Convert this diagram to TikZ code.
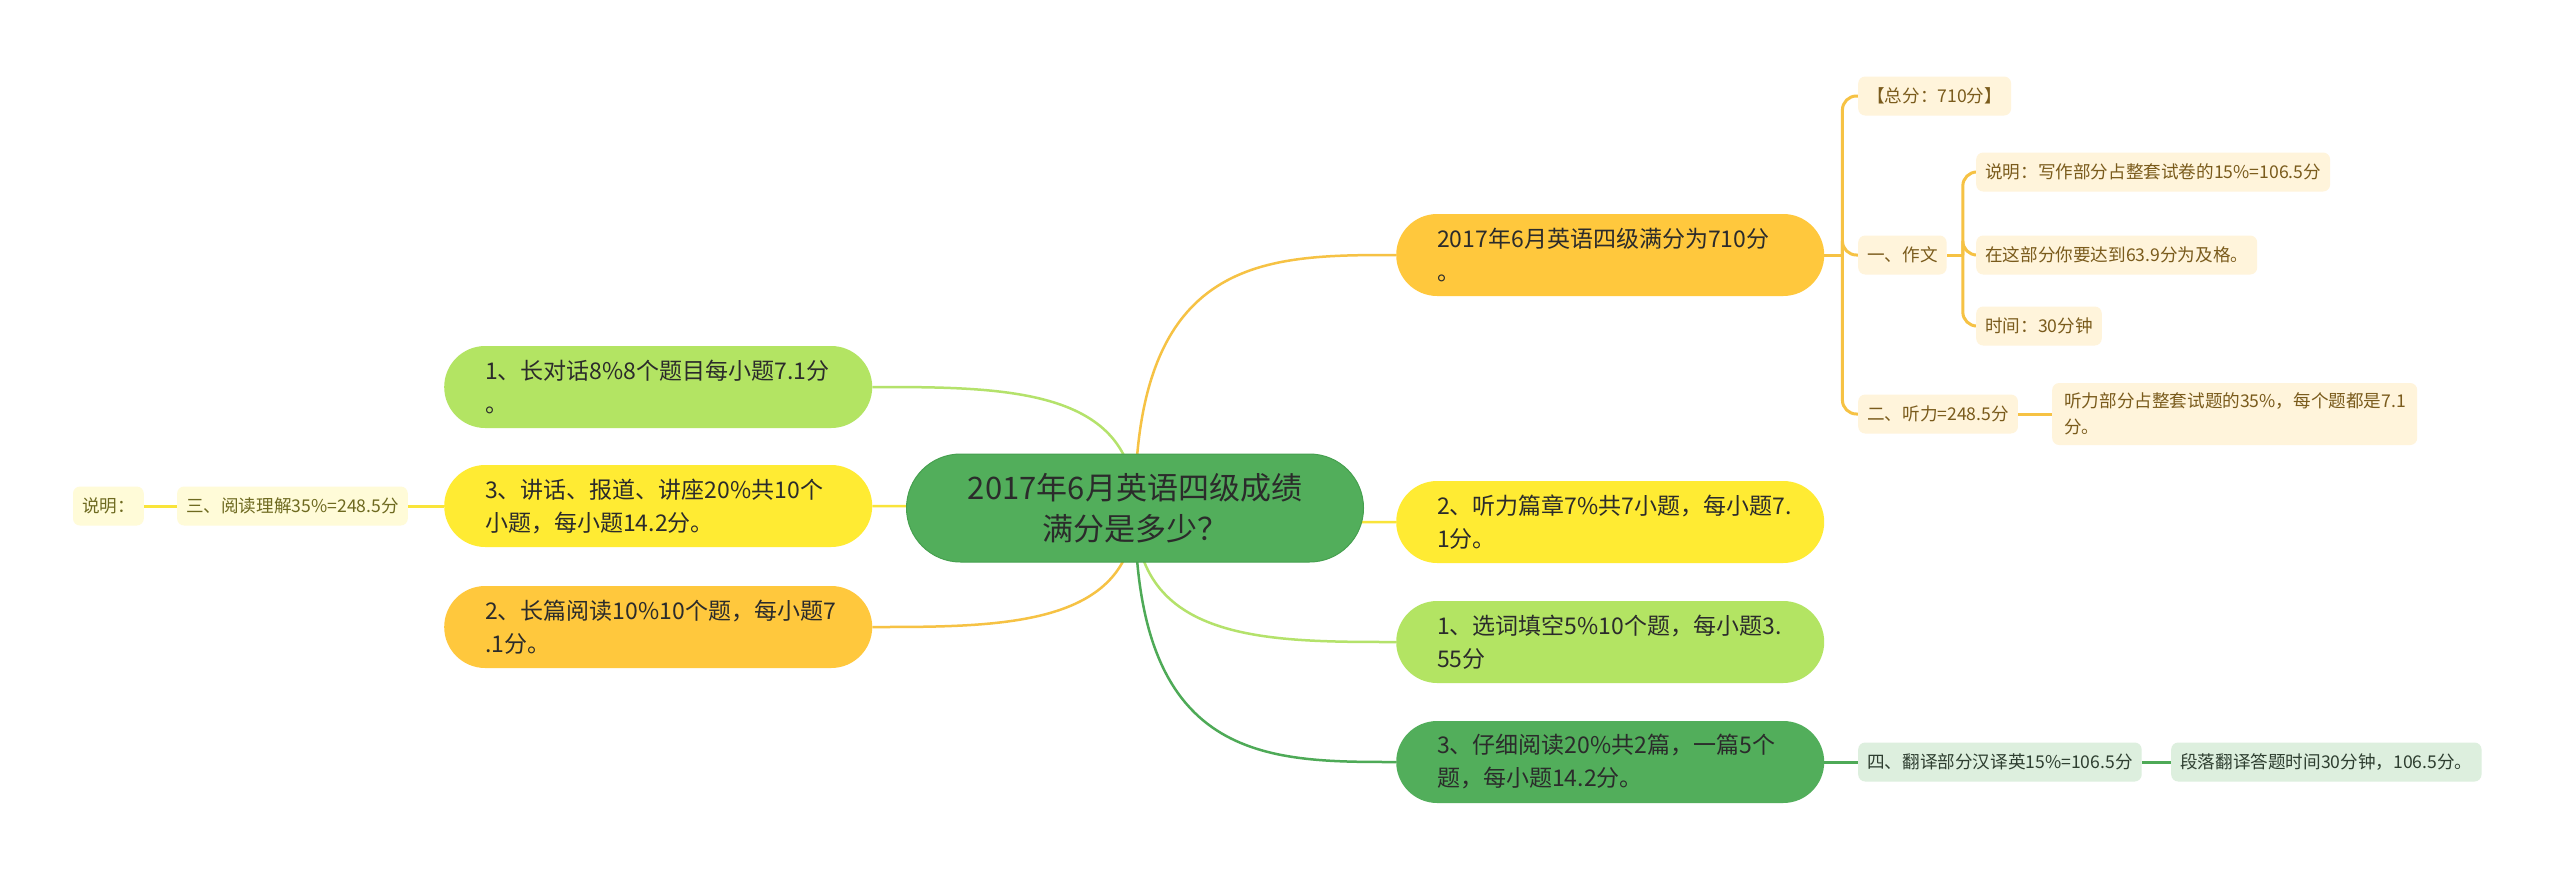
\documentclass[tikz,border=0pt]{standalone}
\usepackage{fontspec}
\setmainfont{Noto Sans CJK SC}
\usetikzlibrary{backgrounds,calc}
\definecolor{cgreen}{HTML}{52AE5B}
\definecolor{cgreenb}{HTML}{46A04F}
\definecolor{corange}{HTML}{FFC83D}
\definecolor{cyellow}{HTML}{FFEB33}
\definecolor{clgreen}{HTML}{B3E463}
\definecolor{lorange}{HTML}{F6C244}
\definecolor{lyellow}{HTML}{F9E43A}
\definecolor{llgreen}{HTML}{B4E26B}
\definecolor{lgreen}{HTML}{4EAA57}
\definecolor{porange}{HTML}{FFF4DB}
\definecolor{pyellow}{HTML}{FFFBD8}
\definecolor{pgreen}{HTML}{DDEFDE}
\definecolor{torange}{HTML}{7A5B1C}
\definecolor{tyellow}{HTML}{6E6A20}
\definecolor{tgreen}{HTML}{2E3E30}
\definecolor{txtdark}{HTML}{2B2B2B}
\begin{document}
\begin{tikzpicture}[x=1pt,y=-1pt,
  rootnode/.style={rectangle, rounded corners=54pt, minimum width=457pt, minimum height=108pt,
    inner sep=0pt, align=center, fill=cgreen, draw=cgreenb, line width=1pt,
    font=\fontsize{31}{41}\selectfont, text=txtdark},
  lvone/.style={rectangle, rounded corners=41pt, minimum height=82pt, text width=346pt,
    inner xsep=41pt, inner ysep=0pt, align=left, anchor=west,
    font=\fontsize{23}{33}\selectfont, text=txtdark},
  lvtwo/.style={rectangle, rounded corners=7pt, minimum height=39pt, inner xsep=9pt,
    inner ysep=0pt, anchor=west, font=\fontsize{17.6}{26}\selectfont, align=left},
  orng/.style={lvtwo, fill=porange, text=torange},
  yelw/.style={lvtwo, fill=pyellow, text=tyellow},
  grn/.style={lvtwo, fill=pgreen, text=tgreen},
  conn/.style={line width=2.5pt},
  conntwo/.style={line width=3pt, rounded corners=14pt}
]
\useasboundingbox (0,0) rectangle (2560,879);

% root
\node[rootnode] (root) at (1135,508) {2017年6月英语四级成绩\\满分是多少？};

% right level one
\node[lvone, fill=corange] (R1) at (1396,255) {2017年6月英语四级满分为710分\\。};
\node[lvone, fill=cyellow] (R2) at (1396,522) {2、听力篇章7\%共7小题，每小题7.\\1分。};
\node[lvone, fill=clgreen] (R3) at (1396,642) {1、选词填空5\%10个题，每小题3.\\55分};
\node[lvone, fill=cgreen] (R4) at (1396,762) {3、仔细阅读20\%共2篇，一篇5个\\题，每小题14.2分。};

% left level one
\node[lvone, fill=clgreen] (L1) at (444,387) {1、长对话8\%8个题目每小题7.1分\\。};
\node[lvone, fill=cyellow] (L2) at (444,506) {3、讲话、报道、讲座20\%共10个\\小题，每小题14.2分。};
\node[lvone, fill=corange] (L3) at (444,627) {2、长篇阅读10\%10个题，每小题7\\.1分。};

% R1 children
\node[orng] (a1) at (1858,96) {【总分：710分】};
\node[orng] (a2) at (1858,255) {一、作文};
\node[orng] (a3) at (1858,414) {二、听力=248.5分};
\node[orng] (b1) at (1976,172) {说明：写作部分占整套试卷的15\%=106.5分};
\node[orng] (b2) at (1976,255) {在这部分你要达到63.9分为及格。};
\node[orng] (b3) at (1976,326) {时间：30分钟};
\node[orng, text width=341pt, minimum height=62pt, inner xsep=12pt] (b4) at (2052,414) {听力部分占整套试题的35\%，每个题都是7.1\\分。};

% R4 children
\node[grn] (c1) at (1858,762) {四、翻译部分汉译英15\%=106.5分};
\node[grn] (c2) at (2171,762) {段落翻译答题时间30分钟，106.5分。};

% L2 children
\node[yelw, anchor=east] (d1) at (408,506) {三、阅读理解35\%=248.5分};
\node[yelw, anchor=east] (d2) at (144,506) {说明：};

\begin{pgfonlayer}{background}
\fill[white] (0,0) rectangle (2560,879);
% root to level one
\draw[conn, draw=lorange] (root.center) .. controls (root.center |- R1.west) and ($(root.center |- R1.west)!0.5!(R1.west)$) .. (R1.west);
\draw[conn, draw=lyellow] (root.center) .. controls (root.center |- R2.west) and ($(root.center |- R2.west)!0.5!(R2.west)$) .. (R2.west);
\draw[conn, draw=llgreen] (root.center) .. controls (root.center |- R3.west) and ($(root.center |- R3.west)!0.5!(R3.west)$) .. (R3.west);
\draw[conn, draw=lgreen] (root.center) .. controls (root.center |- R4.west) and ($(root.center |- R4.west)!0.5!(R4.west)$) .. (R4.west);
\draw[conn, draw=llgreen] (root.center) .. controls (root.center |- L1.east) and ($(root.center |- L1.east)!0.5!(L1.east)$) .. (L1.east);
\draw[conn, draw=lyellow] (root.center) .. controls (root.center |- L2.east) and ($(root.center |- L2.east)!0.5!(L2.east)$) .. (L2.east);
\draw[conn, draw=lorange] (root.center) .. controls (root.center |- L3.east) and ($(root.center |- L3.east)!0.5!(L3.east)$) .. (L3.east);
% R1 branch
\draw[conntwo, draw=lorange] (R1.east) -- ++(18,0) coordinate (t1);
\draw[conntwo, draw=lorange] (t1) |- (a1.west);
\draw[conntwo, draw=lorange] (t1) |- (a2.west);
\draw[conntwo, draw=lorange] (t1) |- (a3.west);
\draw[conntwo, draw=lorange] (a2.east) -- ++(16,0) coordinate (t2);
\draw[conntwo, draw=lorange] (t2) |- (b1.west);
\draw[conntwo, draw=lorange] (t2) |- (b2.west);
\draw[conntwo, draw=lorange] (t2) |- (b3.west);
\draw[conntwo, draw=lorange] (a3.east) -- (b4.west);
% R4 branch
\draw[conntwo, draw=lgreen] (R4.east) -- (c1.west);
\draw[conntwo, draw=lgreen] (c1.east) -- (c2.west);
% L2 branch
\draw[conntwo, draw=lyellow] (L2.west) -- (d1.east);
\draw[conntwo, draw=lyellow] (d1.west) -- (d2.east);
\end{pgfonlayer}
\end{tikzpicture}
\end{document}
